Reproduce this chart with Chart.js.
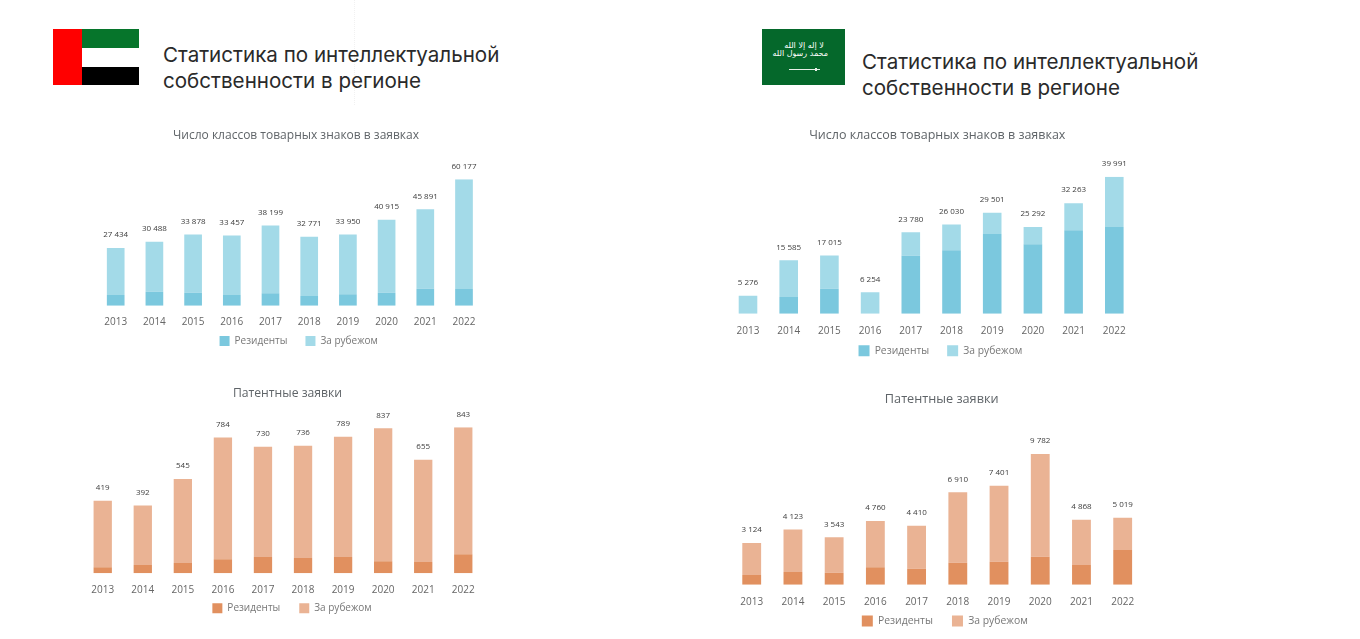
<!DOCTYPE html>
<html lang="ru">
<head>
<meta charset="utf-8">
<title>Статистика по интеллектуальной собственности</title>
<script src="https://cdn.jsdelivr.net/npm/chart.js@4"></script>
<style>
  html, body { margin: 0; padding: 0; background: #fff; width: 1360px; height: 639px; overflow: hidden; }
  canvas { position: absolute; }
  .head { position: absolute; font-family: Inter, sans-serif; font-size: 20.6px; line-height: 26px; color: #2a2a2a; white-space: nowrap; }
  .flag { position: absolute; }
  .sep { position: absolute; left: 354px; top: 0; height: 105px; border-left: 1px dotted #f1f1f1; }
</style>
</head>
<body>
<div class="sep"></div>

<div class="flag" style="left:53px;top:29px;width:29px;height:56px;background:#ff0000"></div>
<div class="flag" style="left:82px;top:29px;width:57px;height:19px;background:#06752b"></div>
<div class="flag" style="left:82px;top:67px;width:57px;height:18px;background:#000"></div>
<div class="head" style="left:163px;top:42px">Статистика по интеллектуальной<br>собственности в регионе</div>

<div class="flag" style="left:762px;top:29px;width:83px;height:56px;background:#05682b"></div>
<div class="flag" style="left:780px;top:42px;width:48px;height:16px;color:#fff;font:8px/8px 'DejaVu Sans';text-align:center;white-space:nowrap" dir="rtl">لا إله إلا الله<br>محمد رسول الله</div>
<div class="flag" style="left:789px;top:69px;width:31px;height:1px;background:#e8f0e8"></div>
<div class="flag" style="left:815px;top:68px;width:2px;height:3px;background:#e8f0e8"></div>
<div class="head" style="left:862px;top:49px">Статистика по интеллектуальной<br>собственности в регионе</div>

<canvas id="uaeMarks" style="left:60px;top:120px" width="472" height="246"></canvas>
<canvas id="uaePatents" style="left:60px;top:380px" width="455" height="255"></canvas>
<canvas id="ksaMarks" style="left:700px;top:120px" width="475" height="256"></canvas>
<canvas id="ksaPatents" style="left:700px;top:385px" width="483" height="264"></canvas>

<script>
const years = ["2013", "2014", "2015", "2016", "2017", "2018", "2019", "2020", "2021", "2022"];
const seriesNames = ["Резиденты", "За рубежом"];
const titleMarks = "Число классов товарных знаков в заявках";
const titlePatents = "Патентные заявки";

const uaeMarksResidents = [5081, 6669, 6192, 5081, 5875, 4605, 5398, 6192, 8098, 7939];
const uaeMarksAbroad = [22353, 23819, 27686, 28376, 32324, 28166, 28552, 34723, 37793, 52238];
const uaeMarksTotal = [27434, 30488, 33878, 33457, 38199, 32771, 33950, 40915, 45891, 60177];

const uaePatentsResidents = [35, 48, 60, 81, 94, 89, 94, 69, 65, 110];
const uaePatentsAbroad = [384, 344, 485, 703, 636, 647, 695, 768, 590, 733];
const uaePatentsTotal = [419, 392, 545, 784, 730, 736, 789, 837, 655, 843];

const ksaMarksResidents = [0, 4865, 7298, 0, 16931, 18488, 23255, 20239, 24326, 25299];
const ksaMarksAbroad = [5276, 10720, 9717, 6254, 6849, 7542, 6246, 5053, 7937, 14692];
const ksaMarksTotal = [5276, 15585, 17015, 6254, 23780, 26030, 29501, 25292, 32263, 39991];

const ksaPatentsResidents = [724, 948, 898, 1297, 1198, 1647, 1722, 2096, 1472, 2595];
const ksaPatentsAbroad = [2400, 3175, 2645, 3463, 3212, 5263, 5679, 7686, 3396, 2424];
const ksaPatentsTotal = [3124, 4123, 3543, 4760, 4410, 6910, 7401, 9782, 4868, 5019];

const blue = ["#7bc8de", "#a3dae8"];
const orange = ["#e1905f", "#eab394"];
const font = "'Open Sans'";

// totals over the bars, plus moving title and legend off the plot centre
const barTotals = {
    id: "barTotals",
    afterLayout(chart, args, opts) {
        chart.titleBlock.left += opts.titleX;
        chart.titleBlock.right += opts.titleX;
        chart.legend.left += opts.legendX;
        chart.legend.right += opts.legendX;
        chart.legend.top += opts.legendY;
        chart.legend.bottom += opts.legendY;
    },
    afterDatasetsDraw(chart, args, opts) {
        const ctx = chart.ctx;
        const bars = chart.getDatasetMeta(1).data;
        ctx.save();
        ctx.font = "8px " + font;
        ctx.fillStyle = "#3c3c3c";
        ctx.textAlign = "center";
        ctx.textBaseline = "middle";
        bars.forEach((bar, i) => {
            const text = String(opts.totals[i]).replace(/\B(?=(\d{3})+$)/g, " ");
            ctx.fillText(text, bar.x, bar.y - 13);
        });
        ctx.restore();
    }
};

function drawChart(id, title, residents, abroad, totals, colors, s) {
    return new Chart(document.getElementById(id), {
        type: "bar",
        plugins: [barTotals],
        data: {
            labels: years,
            datasets: [
                { label: seriesNames[0], data: residents, backgroundColor: colors[0] },
                { label: seriesNames[1], data: abroad, backgroundColor: colors[1] }
            ]
        },
        options: {
            responsive: false,
            animation: false,
            barPercentage: 0.457,
            categoryPercentage: 1,
            layout: { padding: { left: s.padL, right: s.padR, top: 0, bottom: 0 } },
            scales: {
                x: {
                    stacked: true,
                    grid: { display: false, drawTicks: false },
                    border: { display: false },
                    ticks: { color: "#666", padding: s.tickPad, font: { family: font, size: 10 } },
                    afterFit(scale) { scale.height = s.axisH; }
                },
                y: { stacked: true, display: false, min: 0, max: s.yMax }
            },
            plugins: {
                title: {
                    display: true,
                    text: title,
                    color: "#5f6468",
                    font: { family: font, size: s.titleFont, weight: "normal", lineHeight: 14.4 / s.titleFont },
                    padding: { top: s.titleTop, bottom: s.titleBottom }
                },
                legend: {
                    position: "bottom",
                    labels: { color: "#777", boxWidth: s.box, boxHeight: s.box, padding: s.legendPad, font: { family: font, size: s.legendFont } }
                },
                tooltip: { enabled: false },
                barTotals: { totals: totals, titleX: s.titleX, legendX: s.legendX, legendY: s.legendY }
            }
        }
    });
}

drawChart("uaeMarks", titleMarks, uaeMarksResidents, uaeMarksAbroad, uaeMarksTotal, blue,
    { padL: 36.35, padR: 48.65, yMax: 60177, tickPad: 10, axisH: 22.3, titleFont: 12, titleTop: 8.1, titleBottom: 36.8, box: 10, legendPad: 18, legendFont: 10, titleX: 6.15, legendX: 8.85, legendY: -10 });
drawChart("uaePatents", titlePatents, uaePatentsResidents, uaePatentsAbroad, uaePatentsTotal, orange,
    { padL: 22.7, padR: 31.7, yMax: 843, tickPad: 10.5, axisH: 22.7, titleFont: 12.2, titleTop: 6.1, titleBottom: 26.8, box: 10, legendPad: 19, legendFont: 10, titleX: 4.5, legendX: 9, legendY: -11.7 });
drawChart("ksaMarks", titleMarks, ksaMarksResidents, ksaMarksAbroad, ksaMarksTotal, blue,
    { padL: 27.65, padR: 40.35, yMax: 39991, tickPad: 11, axisH: 23.3, titleFont: 12.5, titleTop: 7.8, titleBottom: 34.5, box: 11, legendPad: 18, legendFont: 10.3, titleX: 6.15, legendX: 9.3, legendY: -9.8 });
drawChart("ksaPatents", titlePatents, ksaPatentsResidents, ksaPatentsAbroad, ksaPatentsTotal, orange,
    { padL: 31.1, padR: 39.7, yMax: 9782, tickPad: 11, axisH: 24.3, titleFont: 12.7, titleTop: 6.8, titleBottom: 47.8, box: 11, legendPad: 19, legendFont: 10.4, titleX: 4.5, legendX: 7.6, legendY: -12.5 });
</script>
</body>
</html>
